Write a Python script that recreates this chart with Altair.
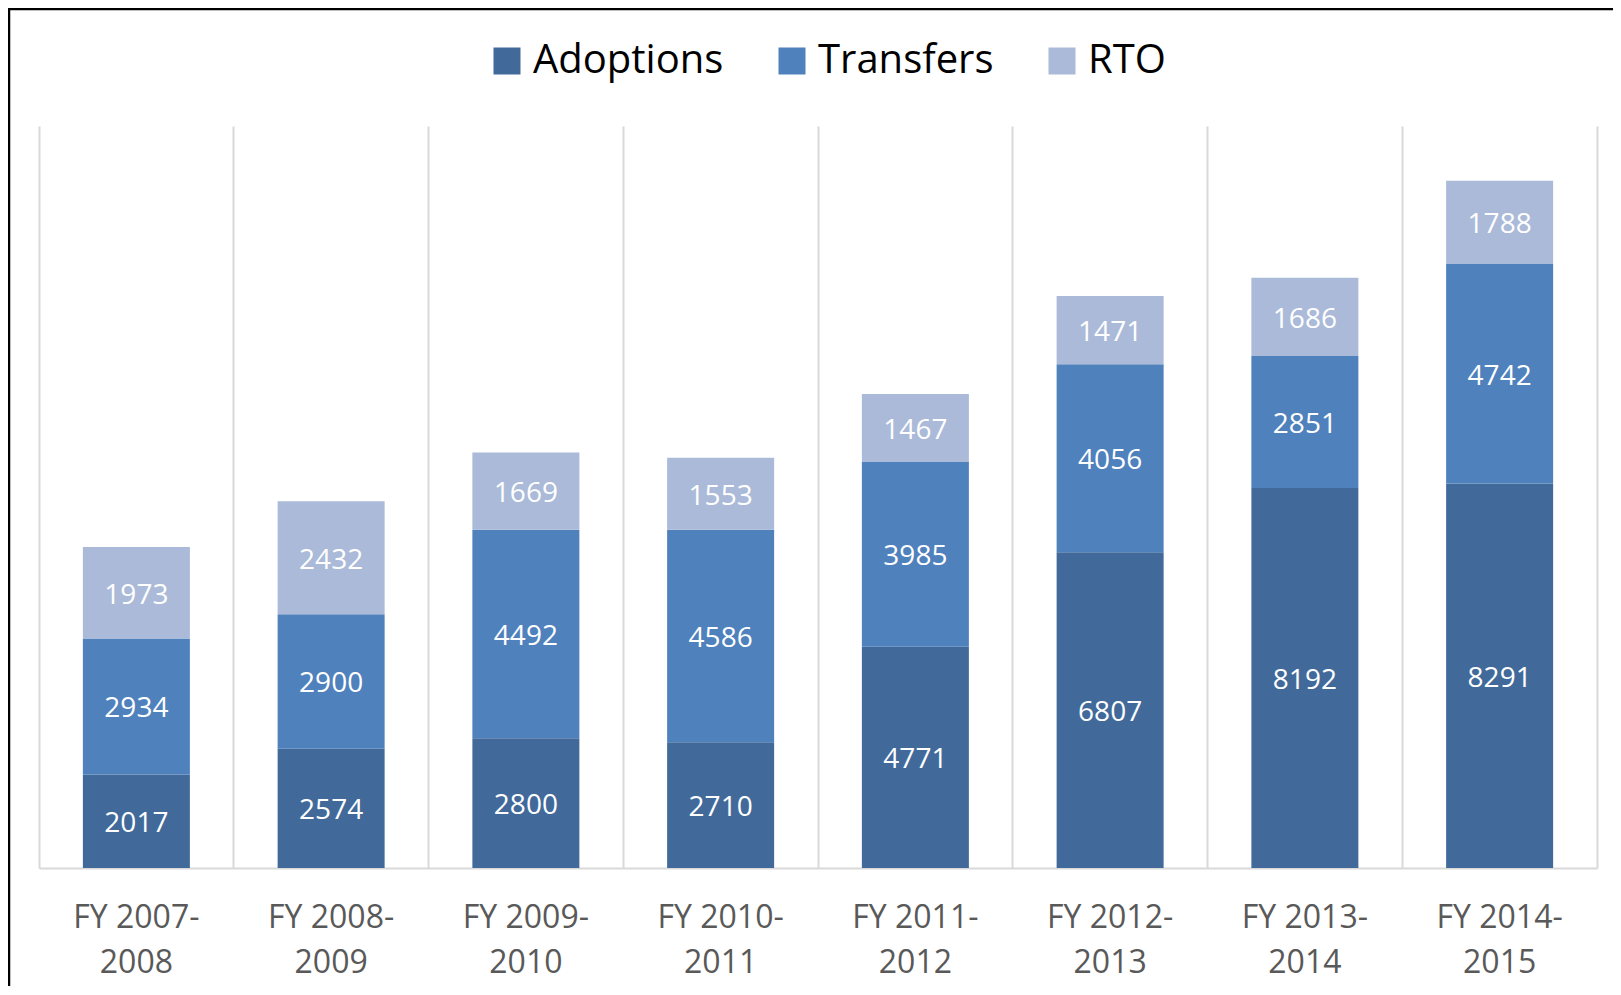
import altair as alt
import pandas as pd

years = ["FY 2007-2008", "FY 2008-2009", "FY 2009-2010", "FY 2010-2011",
         "FY 2011-2012", "FY 2012-2013", "FY 2013-2014", "FY 2014-2015"]
adoptions = [2017, 2574, 2800, 2710, 4771, 6807, 8192, 8291]
transfers = [2934, 2900, 4492, 4586, 3985, 4056, 2851, 4742]
rto = [1973, 2432, 1669, 1553, 1467, 1471, 1686, 1788]
series = ["Adoptions", "Transfers", "RTO"]
colors = ["#416A9B", "#4F81BD", "#AABAD8"]

rows = []
for i, y in enumerate(years):
    for k, (s, vals) in enumerate(zip(series, [adoptions, transfers, rto])):
        rows.append({"year": y, "series": s, "order": k, "value": vals[i]})
df = pd.DataFrame(rows)

W, H = 1558, 742
FONT = "Open Sans"

x_enc = alt.X("year:N", sort=years, title=None,
              scale=alt.Scale(paddingInner=0, paddingOuter=0),
              axis=alt.Axis(labelAngle=0, labelFontSize=32, labelFont=FONT,
                            labelColor="#595959", labelPadding=34,
                            labelLineHeight=45, labelLimit=0,
                            labelExpr="[slice(datum.label,0,8), slice(datum.label,8)]",
                            ticks=False, domainColor="#d9d9d9", domainWidth=2,
                            grid=True, gridColor="#d9d9d9", gridWidth=2,
                            bandPosition=0))

base = alt.Chart(df)

bars = base.mark_bar(size=107).encode(
    x=x_enc,
    y=alt.Y("value:Q", stack="zero", scale=alt.Scale(domain=[0, 16000], nice=False),
            axis=alt.Axis(orient="right", labels=False, ticks=False, grid=False,
                          domainColor="#d9d9d9", domainWidth=2, title=None)),
    color=alt.Color("series:N", sort=series,
                    scale=alt.Scale(domain=series, range=colors),
                    legend=alt.Legend(orient="none", legendX=448, legendY=-85,
                                      direction="horizontal", title=None,
                                      symbolType="square", symbolSize=729,
                                      symbolStrokeWidth=0, labelFontSize=40,
                                      labelFont=FONT, labelColor="black",
                                      labelOffset=6, columnPadding=48,
                                      labelLimit=0)),
    order=alt.Order("order:Q"),
)

texts = base.transform_stack(
    stack="value", groupby=["year"], as_=["v0", "v1"],
    sort=[alt.SortField("order", order="ascending")]
).transform_calculate(mid="(datum.v0 + datum.v1) / 2").mark_text(
    color="white", fontSize=28, font=FONT, baseline="middle", dy=3
).encode(
    x=alt.X("year:N", sort=years),
    y=alt.Y("mid:Q"),
    text=alt.Text("value:Q", format="d"),
)

frame_df = pd.DataFrame({"k": [0]})
top_border = alt.Chart(frame_df).mark_rule(color="black", strokeWidth=2.5).encode(
    x=alt.value(-31), x2=alt.value(W + 100), y=alt.value(-117))
left_border = alt.Chart(frame_df).mark_rule(color="black", strokeWidth=2.5).encode(
    x=alt.value(-30), y=alt.value(-118), y2=alt.value(H + 200))

chart = alt.layer(bars, texts, top_border, left_border).properties(
    width=W, height=H,
    padding={"left": 31, "top": 118, "right": 16, "bottom": 118},
    autosize=alt.AutoSizeParams(type="none"),
    background="white",
).configure_view(stroke=None)

chart.save("out.html", embed_options={"renderer": "svg", "actions": False})
